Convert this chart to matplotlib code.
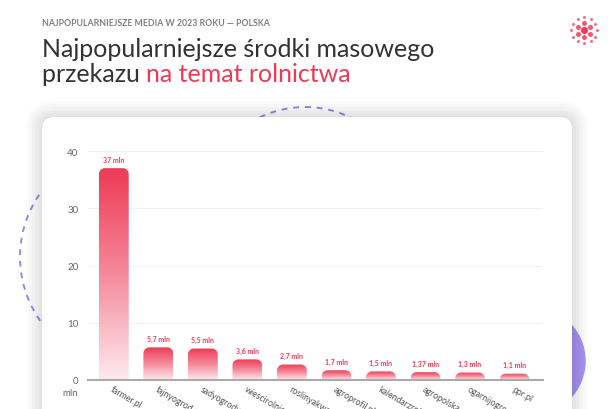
import matplotlib
matplotlib.use('Agg')

import numpy as np
import matplotlib.pyplot as plt
from matplotlib.patches import FancyBboxPatch, Circle, PathPatch
from matplotlib.path import Path
from matplotlib.colors import LinearSegmentedColormap

sites = ['farmer.pl', 'fajnyogrod.pl', 'sadyogrody.pl', 'wiescirolnicze.pl',
         'roslinyakwariowe.pl', 'agroprofil.pl', 'kalendarzrolnika.pl',
         'agropolska.pl', 'ogarnijogrod.pl', 'ppr.pl']
values = [37, 5.7, 5.5, 3.6, 2.7, 1.7, 1.5, 1.37, 1.3, 1.1]
value_labels = ['37 mln', '5,7 mln', '5,5 mln', '3,6 mln', '2,7 mln', '1,7 mln',
                '1,5 mln', '1,37 mln', '1,3 mln', '1,1 mln']
yticks = [0, 10, 20, 30, 40]

RED = '#ef3a55'
PURPLE = '#a993f3'
FONT = 'Lato'
W, H = 615, 410

fig = plt.figure(figsize=(W / 100, H / 100), dpi=100)
fig.patch.set_facecolor('white')

# background layer in pixel coordinates
bg = fig.add_axes([0, 0, 1, 1])
bg.set_xlim(0, W)
bg.set_ylim(H, 0)
bg.axis('off')

# decorations behind the card
bg.add_patch(Circle((531, 362), 54, color=PURPLE, zorder=1))
bg.add_patch(Circle((131, 258), 111, fill=False, ec='#9f85f2', lw=1.4,
                    ls=(0, (3, 3)), zorder=1))
bg.add_patch(Circle((305, 212), 104, fill=False, ec='#9f85f2', lw=1.4,
                    ls=(0, (3, 3)), zorder=1))

# soft shadow + card
for i, a in enumerate([0.015, 0.018, 0.02, 0.022, 0.025, 0.028]):
    g = 16 - i * 3
    bg.add_patch(FancyBboxPatch((42 - g, 118 - g), 530 + 2 * g, 320 + 2 * g,
                                boxstyle='round,pad=0,rounding_size=%f' % (12 + g),
                                fc='black', ec='none', alpha=a, zorder=2))
bg.add_patch(FancyBboxPatch((42, 118), 530, 320,
                            boxstyle='round,pad=0,rounding_size=12',
                            fc='white', ec='none', zorder=3))

# logo dots
cx, cy = 584, 31
bg.scatter([cx], [cy], s=26, color=RED, zorder=4, lw=0)
ang = np.deg2rad(np.arange(0, 360, 60) + 30)
bg.scatter(cx + 7 * np.cos(ang), cy + 7 * np.sin(ang), s=13, color=RED,
           alpha=0.85, zorder=4, lw=0)
ang = np.deg2rad(np.arange(0, 360, 30))
bg.scatter(cx + 13 * np.cos(ang), cy + 13 * np.sin(ang), s=5, color=RED,
           alpha=0.7, zorder=4, lw=0)

# titles
fig.text(42 / W, 1 - 24 / H, 'NAJPOPULARNIEJSZE MEDIA W 2023 ROKU — POLSKA',
         fontsize=6.3, fontweight='bold', color='#808080', family=FONT,
         va='center', ha='left')
fig.text(42 / W, 1 - 57 / H, 'Najpopularniejsze środki masowego',
         fontsize=18, color='#333333', family=FONT, va='baseline')
t = fig.text(42 / W, 1 - 82 / H, 'przekazu ', fontsize=18, color='#333333',
             family=FONT, va='baseline')
fig.canvas.draw()
ext = t.get_window_extent()
fig.text(ext.x1 / W, 1 - 82 / H, 'na temat rolnictwa', fontsize=18,
         color=RED, family=FONT, va='baseline')

# chart
ax = fig.add_axes([88 / W, 29 / H, 455 / W, 229 / H])
ax.patch.set_alpha(0)
ax.set_zorder(5)
x = np.arange(len(values))
ax.set_xlim(-0.58, 9.64)
ax.set_ylim(0, 40)

px_x = 455 / (9.64 + 0.58)
px_y = 229 / 40
bw = 0.67
cmap = LinearSegmentedColormap.from_list('bar', ['#fdeaee', '#f5899b', RED])
grad = np.linspace(0, 1, 256).reshape(-1, 1)


def top_rounded(x0, x1, h, r_px):
    r_px = min(r_px, h * px_y)
    rx, ry = r_px / px_x, r_px / px_y
    t1 = np.linspace(np.pi, np.pi / 2, 12)
    t2 = np.linspace(np.pi / 2, 0, 12)
    pts = [(x0, -1)]
    pts += [(x0 + rx + rx * np.cos(a), h - ry + ry * np.sin(a)) for a in t1]
    pts += [(x1 - rx + rx * np.cos(a), h - ry + ry * np.sin(a)) for a in t2]
    pts += [(x1, -1), (x0, -1)]
    codes = [Path.MOVETO] + [Path.LINETO] * (len(pts) - 2) + [Path.CLOSEPOLY]
    return Path(pts, codes)


for xi, v, lab in zip(x, values, value_labels):
    x0, x1 = xi - bw / 2, xi + bw / 2
    im = ax.imshow(grad, extent=[x0, x1, 0, v], origin='lower', cmap=cmap,
                   aspect='auto', zorder=3)
    clip = PathPatch(top_rounded(x0, x1, v, 6), transform=ax.transData,
                     fc='none', ec='none')
    ax.add_patch(clip)
    im.set_clip_path(clip)
    ax.annotate(lab, (xi, v), xytext=(0, 4), textcoords='offset points',
                ha='center', va='bottom', fontsize=5, fontweight='bold',
                color=RED, family=FONT)

ax.set_xlim(-0.58, 9.64)
ax.set_ylim(0, 40)
ax.set_yticks(yticks)
ax.set_yticklabels([str(v) for v in yticks], fontsize=7, color='#666666',
                   family=FONT)
ax.tick_params(axis='y', length=0, pad=7)
ax.grid(axis='y', color='#f1f1f1', lw=0.8, zorder=0)
ax.set_xticks(x)
ax.set_xticklabels(sites, rotation=-30, ha='left', va='top',
                   rotation_mode='anchor', fontsize=6.3, color='#555555',
                   family=FONT)
ax.tick_params(axis='x', length=0, pad=3)
for s in ['top', 'right', 'left']:
    ax.spines[s].set_visible(False)
ax.spines['bottom'].set_color('#aaaaaa')
ax.spines['bottom'].set_linewidth(1.5)
ax.spines['bottom'].set_zorder(4)
ax.annotate('mln', (0, 0), xycoords='axes fraction', xytext=(-7, -6),
            textcoords='offset points', fontsize=7, color='#666666',
            family=FONT, ha='right', va='top')

fig.savefig('out.png', dpi=100)
